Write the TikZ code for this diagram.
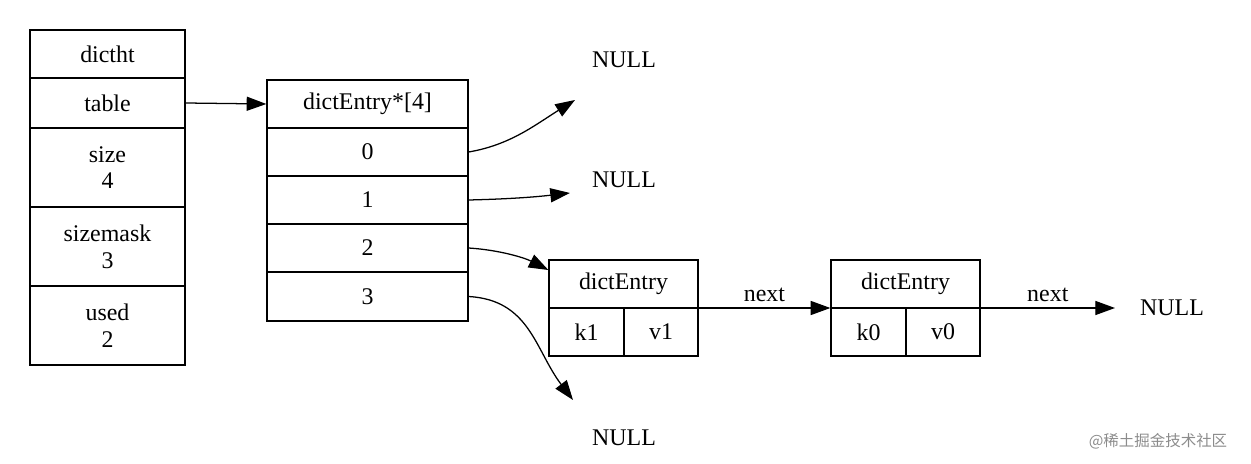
\documentclass[tikz,border=0pt]{standalone}
\usepackage{fontspec}
\setmainfont{Liberation Serif}
\newfontfamily\cjkf{Noto Sans CJK SC}
\usetikzlibrary{arrows.meta}
\begin{document}
\begin{tikzpicture}[x=0.025cm,y=-0.025cm,
  every node/.style={font=\fontsize{17}{19}\selectfont},
  cell/.style={draw,line width=0.9pt,inner sep=0pt,align=center},
  lab/.style={inner sep=0pt},
  arr/.style={line width=0.9pt,-{Triangle[length=14pt,width=10pt]}}]
\useasboundingbox (0,0) rectangle (1251,464);
% left dictht
\node[cell,minimum width=155*0.025cm,minimum height=48*0.025cm] (ht) at (107.5,54) {dictht};
\node[cell,minimum width=155*0.025cm,minimum height=50*0.025cm] (tab) at (107.5,103) {table};
\node[cell,minimum width=155*0.025cm,minimum height=79*0.025cm] (sz) at (107.5,167.5) {size\\ 4};
\node[cell,minimum width=155*0.025cm,minimum height=79*0.025cm] (sm) at (107.5,246.5) {sizemask\\ 3};
\node[cell,minimum width=155*0.025cm,minimum height=79*0.025cm] (us) at (107.5,325.5) {used\\ 2};
% array
\node[cell,minimum width=201*0.025cm,minimum height=48*0.025cm] (arrh) at (367.5,104) {dictEntry*[4]};
\node[cell,minimum width=201*0.025cm,minimum height=48*0.025cm] (e0) at (367.5,152) {0};
\node[cell,minimum width=201*0.025cm,minimum height=48*0.025cm] (e1) at (367.5,200) {1};
\node[cell,minimum width=201*0.025cm,minimum height=48*0.025cm] (e2) at (367.5,248) {2};
\node[cell,minimum width=201*0.025cm,minimum height=49*0.025cm] (e3) at (367.5,296.5) {3};
% entry 1
\node[cell,minimum width=149*0.025cm,minimum height=48*0.025cm] (d1) at (623.5,284) {dictEntry};
\node[cell,minimum width=75*0.025cm,minimum height=48*0.025cm] (k1) at (586.5,332) {k1};
\node[cell,minimum width=74*0.025cm,minimum height=48*0.025cm] (v1) at (661,332) {v1};
% entry 2
\node[cell,minimum width=149*0.025cm,minimum height=48*0.025cm] (d2) at (905.5,284) {dictEntry};
\node[cell,minimum width=75*0.025cm,minimum height=48*0.025cm] (k0) at (868.5,332) {k0};
\node[cell,minimum width=74*0.025cm,minimum height=48*0.025cm] (v0) at (943,332) {v0};
% NULLs
\node[lab] (n0) at (624,60) {NULL};
\node[lab] (n1) at (624,180) {NULL};
\node[lab] (n3) at (624,438) {NULL};
\node[lab] (n4) at (1172,308) {NULL};
\coordinate (c0) at (575,100);
\coordinate (c1) at (570,193);
\coordinate (c3) at (573,400);
\coordinate (c4) at (1115,308);
% arrows
\draw[arr] (tab.east) -- (arrh.west);
\draw[arr] (e0.east) .. controls (510,145) and (535,125) .. (c0);
\draw[arr] (e1.east) .. controls (510,199) and (535,197) .. (c1);
\draw[arr] (e2.east) .. controls (500,250) and (525,258) .. (d1.west|-0,270);
\draw[arr] (e3.east) .. controls (530,300) and (535,350) .. (c3);
\draw[arr] (v1.east|-0,308) -- node[lab,above=4pt] {next} (k0.west|-0,308);
\draw[arr] (v0.east|-0,308) -- node[lab,above=4pt] {next} (c4);
% watermark
\node[lab,text=black!45,font=\cjkf\fontsize{11}{13}\selectfont] (wm) at (1158,441) {@稀土掘金技术社区};
\end{tikzpicture}
\end{document}
